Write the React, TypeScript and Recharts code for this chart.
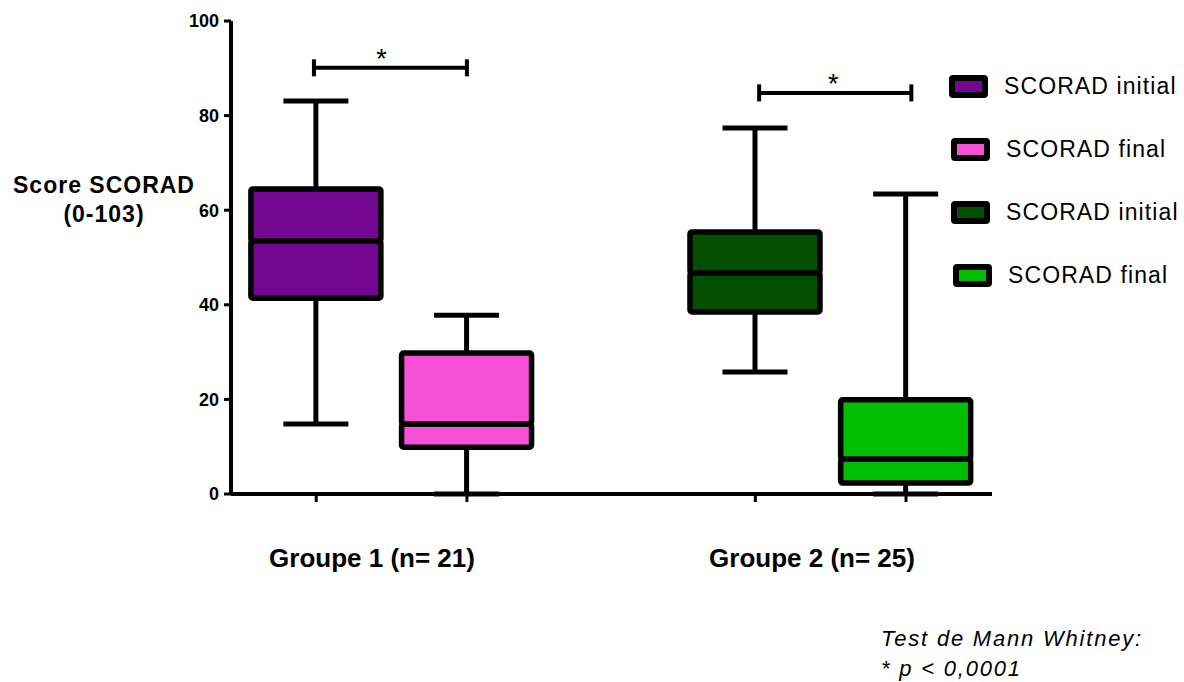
import React from 'react';
import { ComposedChart, Bar, XAxis, YAxis, ReferenceLine, Legend } from 'recharts';

// box positions on a 0-100 horizontal scale
const boxNames = ['G1 initial', 'G1 final', 'G2 initial', 'G2 final'];
const boxX = [11.2, 31, 68.9, 88.7];
const mins = [14.8, 0, 25.8, 0];
const q1s = [41.4, 9.9, 38.5, 2.3];
const medians = [53.5, 14.8, 46.7, 7.4];
const q3s = [64.5, 29.8, 55.4, 19.9];
const maxs = [83.1, 37.8, 77.4, 63.4];
const boxColors = ['#730691', '#f550d6', '#005000', '#00be00'];

const yTicks = [0, 20, 40, 60, 80, 100];

// significance brackets
const sigStart = [10.9, 69.4];
const sigEnd = [31.0, 89.4];
const sigY = [90.1, 84.8];
const sigMark = ['*', '*'];

const legendNames = ['SCORAD initial', 'SCORAD final', 'SCORAD initial', 'SCORAD final'];
const groupLabels = ['Groupe 1 (n= 21)', 'Groupe 2 (n= 25)'];
const groupLabelCenters = [372, 812];

const FONT = 'Arial, "Liberation Sans", sans-serif';

const data = boxNames.map((name, i) => ({
  name,
  x: boxX[i],
  base: mins[i],
  lowW: q1s[i] - mins[i],
  lowBox: medians[i] - q1s[i],
  highBox: q3s[i] - medians[i],
  highW: maxs[i] - q3s[i],
  color: boxColors[i],
}));

const CAP = 65;

const LowWhisker = (props: any) => {
  const { x, y, width, height } = props;
  const cx = x + width / 2;
  const bottom = y + height;
  return (
    <g>
      <line x1={cx} x2={cx} y1={y} y2={bottom} stroke="#000" strokeWidth={5} />
      <line x1={cx - CAP / 2} x2={cx + CAP / 2} y1={bottom} y2={bottom} stroke="#000" strokeWidth={5} />
    </g>
  );
};

const HighWhisker = (props: any) => {
  const { x, y, width, height } = props;
  const cx = x + width / 2;
  return (
    <g>
      <line x1={cx} x2={cx} y1={y} y2={y + height} stroke="#000" strokeWidth={5} />
      <line x1={cx - CAP / 2} x2={cx + CAP / 2} y1={y} y2={y} stroke="#000" strokeWidth={5} />
    </g>
  );
};

const BoxPart = (props: any) => {
  const { x, y, width, height, payload } = props;
  return (
    <rect
      x={x}
      y={y}
      width={width}
      height={height}
      rx={2}
      fill={payload.color}
      stroke="#000"
      strokeWidth={5.5}
    />
  );
};

const LegendBox = () => (
  <div style={{ fontFamily: FONT }}>
    {legendNames.map((n, i) => (
      <div key={i} style={{ display: 'flex', alignItems: 'center', height: 63 }}>
        <div
          style={{
            width: 27,
            height: 11,
            background: boxColors[i],
            border: '6px solid #000',
            borderRadius: 4,
            marginLeft: i === 3 ? 4 : i === 0 ? 0 : 2,
          }}
        />
        <span style={{ fontSize: 23, letterSpacing: 1.1, marginLeft: 16, color: '#000' }}>{n}</span>
      </div>
    ))}
  </div>
);

export default function App() {
  return (
    <div style={{ position: 'absolute', left: 0, top: 0, width: 1184, height: 682, background: '#fff', fontFamily: FONT }}>
      <ComposedChart
        width={1184}
        height={682}
        data={data}
        margin={{ top: 21, right: 192, bottom: 158, left: 171 }}
      >
        <XAxis
          dataKey="x"
          type="number"
          domain={[0, 100]}
          ticks={boxX}
          tickFormatter={() => ''}
          axisLine={{ stroke: '#000', strokeWidth: 4 }}
          tickLine={{ stroke: '#000', strokeWidth: 3 }}
          tickSize={8}
          height={30}
        />
        <YAxis
          type="number"
          domain={[0, 100]}
          ticks={yTicks}
          width={60}
          axisLine={{ stroke: '#000', strokeWidth: 4 }}
          tickLine={{ stroke: '#000', strokeWidth: 3 }}
          tickSize={7}
          tickMargin={5}
          tick={{ fill: '#000', fontSize: 18, fontWeight: 700, fontFamily: FONT }}
        />
        <Bar dataKey="base" stackId="box" fill="none" barSize={130} isAnimationActive={false} />
        <Bar dataKey="lowW" stackId="box" barSize={130} shape={LowWhisker} isAnimationActive={false} />
        <Bar dataKey="lowBox" stackId="box" barSize={130} shape={BoxPart} isAnimationActive={false} />
        <Bar dataKey="highBox" stackId="box" barSize={130} shape={BoxPart} isAnimationActive={false} />
        <Bar dataKey="highW" stackId="box" barSize={130} shape={HighWhisker} isAnimationActive={false} />
        {sigStart.map((s, i) => (
          <ReferenceLine
            key={`sig-${i}`}
            segment={[{ x: s, y: sigY[i] }, { x: sigEnd[i], y: sigY[i] }]}
            stroke="#000"
            strokeWidth={4}
            ifOverflow="visible"
            label={{ value: sigMark[i], position: 'top', offset: 0, fill: '#000', fontSize: 27, fontFamily: FONT, dx: i === 0 ? -9 : -2 }}
          />
        ))}
        {sigStart.map((s, i) => (
          <ReferenceLine
            key={`sigl-${i}`}
            segment={[{ x: s, y: sigY[i] - 1.8 }, { x: s, y: sigY[i] + 1.8 }]}
            stroke="#000"
            strokeWidth={4}
            ifOverflow="visible"
          />
        ))}
        {sigEnd.map((s, i) => (
          <ReferenceLine
            key={`sigr-${i}`}
            segment={[{ x: s, y: sigY[i] - 1.8 }, { x: s, y: sigY[i] + 1.8 }]}
            stroke="#000"
            strokeWidth={4}
            ifOverflow="visible"
          />
        ))}
        <Legend
          layout="vertical"
          align="center"
          verticalAlign="middle"
          content={LegendBox}
          wrapperStyle={{ position: 'absolute', left: 949, top: 55, width: 235, height: 260 }}
        />
      </ComposedChart>

      <div
        style={{
          position: 'absolute',
          left: 0,
          width: 208,
          top: 171,
          textAlign: 'center',
          fontSize: 23,
          fontWeight: 700,
          letterSpacing: 1,
          lineHeight: '29px',
          color: '#000',
        }}
      >
        Score SCORAD
        <br />
        (0-103)
      </div>

      {groupLabels.map((g, i) => (
        <div
          key={g}
          style={{
            position: 'absolute',
            left: groupLabelCenters[i] - 150,
            width: 300,
            top: 543,
            textAlign: 'center',
            fontSize: 26,
            fontWeight: 700,
            color: '#000',
          }}
        >
          {g}
        </div>
      ))}

      <div
        style={{
          position: 'absolute',
          left: 881,
          top: 624,
          fontSize: 22,
          fontStyle: 'italic',
          letterSpacing: 1.8,
          lineHeight: '30px',
          color: '#000',
        }}
      >
        Test de Mann Whitney:
        <br />* p &lt; 0,0001
      </div>
    </div>
  );
}
